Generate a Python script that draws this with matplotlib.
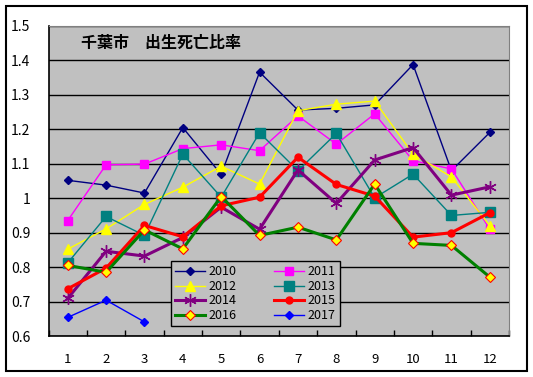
import matplotlib
matplotlib.use("Agg")
import matplotlib.pyplot as plt
from matplotlib.patches import Rectangle

plt.rcParams['font.family'] = ['Noto Sans CJK JP', 'DejaVu Sans']

months = [1, 2, 3, 4, 5, 6, 7, 8, 9, 10, 11, 12]
y2010 = [1.052, 1.038, 1.015, 1.205, 1.069, 1.366, 1.256, 1.261, 1.271, 1.388, 1.08, 1.191]
y2011 = [0.935, 1.097, 1.099, 1.144, 1.155, 1.138, 1.239, 1.157, 1.245, 1.109, 1.085, 0.91]
y2012 = [0.852, 0.911, 0.982, 1.032, 1.093, 1.041, 1.254, 1.273, 1.282, 1.128, 1.062, 0.92]
y2013 = [0.812, 0.947, 0.892, 1.128, 1.003, 1.19, 1.08, 1.188, 1.001, 1.07, 0.95, 0.959]
y2014 = [0.709, 0.846, 0.832, 0.886, 0.974, 0.91, 1.082, 0.985, 1.111, 1.147, 1.009, 1.033]
y2015 = [0.737, 0.797, 0.921, 0.888, 0.978, 1.003, 1.119, 1.04, 1.006, 0.887, 0.9, 0.958]
y2016 = [0.805, 0.785, 0.908, 0.853, 1.005, 0.892, 0.916, 0.879, 1.041, 0.869, 0.863, 0.771]
y2017 = [0.654, 0.704, 0.641]

W, H = 533, 377
fig = plt.figure(figsize=(W / 100, H / 100), dpi=100, facecolor='white')

# outer chart border
fig.patches.append(Rectangle((5.5 / W, 1 - 371 / H), 521 / W, 365.5 / H,
                             transform=fig.transFigure, fill=False,
                             edgecolor='black', linewidth=1.5))

ax = fig.add_axes([48.5 / W, 1 - 336 / H, 460.5 / W, 310 / H])
ax.set_facecolor('#C0C0C0')

series = [
    ('2010', months, y2010, dict(color='#000080', lw=1.0, marker='D', ms=4.5)),
    ('2011', months, y2011, dict(color='#FF00FF', lw=1.0, marker='s', ms=6)),
    ('2012', months, y2012, dict(color='#FFFF00', lw=1.0, marker='^', ms=7)),
    ('2013', months, y2013, dict(color='#008080', lw=1.0, marker='s', ms=7)),
    ('2014', months, y2014, dict(color='#800080', lw=2.2, marker=(6, 2, 0), ms=9, mew=1.0)),
    ('2015', months, y2015, dict(color='#FF0000', lw=2.2, marker='o', ms=5)),
    ('2016', months, y2016, dict(color='#008000', lw=2.2, marker='D', ms=5,
                                 mfc='#FFFF00', mec='#FF0000', mew=0.8)),
    ('2017', months[:len(y2017)], y2017, dict(color='#0000FF', lw=1.0, marker='D', ms=4.5)),
]

handles = {}
for name, xs, ys, st in series:
    ln, = ax.plot(xs, ys, label=name, zorder=3, **st)
    handles[name] = ln

ax.set_xlim(0.5, 12.5)
ax.set_ylim(0.6, 1.5)
ax.set_yticks([0.6, 0.7, 0.8, 0.9, 1.0, 1.1, 1.2, 1.3, 1.4, 1.5])
ax.set_yticklabels(['0.6', '0.7', '0.8', '0.9', '1', '1.1', '1.2', '1.3', '1.4', '1.5'])
ax.set_xticks(months)
ax.set_xticks([m + 0.5 for m in range(0, 13)], minor=True)
ax.tick_params(axis='y', length=0, pad=13, labelsize=10)
ax.tick_params(axis='x', which='major', length=0, pad=12, labelsize=9.5)
ax.tick_params(axis='x', which='minor', direction='in', length=4, width=1, color='black')
ax.yaxis.grid(True, color='black', linewidth=1.0)
ax.set_axisbelow(True)

for s in ['top', 'right']:
    ax.spines[s].set_color('#808080')
for s in ['left', 'bottom']:
    ax.spines[s].set_color('black')
    ax.spines[s].set_linewidth(1.2)

ax.text(0.07, 0.945, '千葉市\u3000出生死亡比率', transform=ax.transAxes,
        fontsize=11.5, fontweight='bold', va='center', ha='left')

order = ['2010', '2012', '2014', '2016', '2011', '2013', '2015', '2017']
leg = ax.legend([handles[k] for k in order], order, ncol=2,
                loc='upper left', bbox_to_anchor=(122 / 460.5, 1 - 235 / 310),
                borderaxespad=0, fontsize=9, frameon=True, fancybox=False,
                framealpha=1, facecolor='#C0C0C0', edgecolor='black',
                handlelength=2.4, columnspacing=3.0, labelspacing=0.12,
                borderpad=0.35, handletextpad=0.3)
leg.get_frame().set_linewidth(1.0)
leg.set_zorder(5)

fig.savefig('out.png', dpi=100, facecolor='white')
